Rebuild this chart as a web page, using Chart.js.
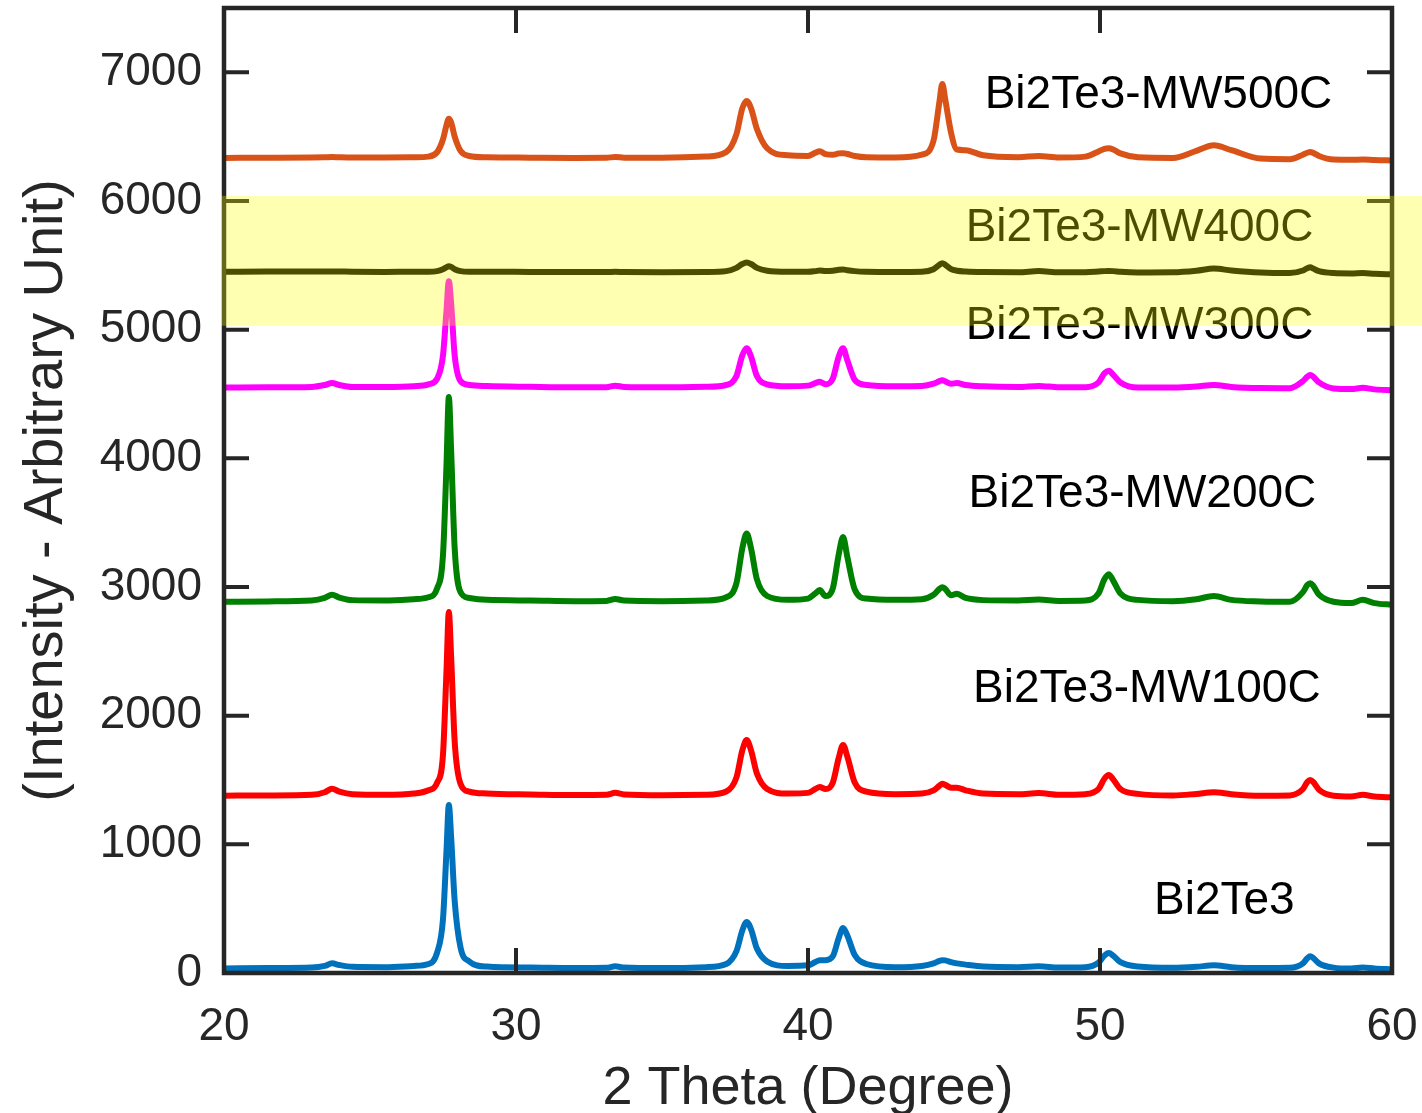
<!DOCTYPE html>
<html>
<head>
<meta charset="utf-8">
<script src="https://cdn.jsdelivr.net/npm/chart.js@4.4.1/dist/chart.umd.min.js"></script>
<style>
  html, body { margin: 0; padding: 0; background: #fff; }
</style>
</head>
<body>
<canvas id="xrdChart" width="1422" height="1113"></canvas>
<script>
// 2-theta sample positions (shared by all patterns)
const twoTheta = [
  20, 21.5, 23.0, 23.45, 23.7, 23.95, 24.4, 25.5, 26.5,
  27.0, 27.3, 27.5, 27.62, 27.7, 27.78, 27.9, 28.1, 28.4,
  29.0, 30.5, 32.0, 33.1, 33.4, 33.7, 35.0, 36.5,
  37.2, 37.55, 37.75, 37.9, 38.05, 38.25, 38.6, 39.3,
  40.0, 40.25, 40.4, 40.6, 40.85, 41.05, 41.2, 41.35, 41.6, 42.0, 43.0,
  43.9, 44.3, 44.5, 44.6, 44.7, 44.9, 45.1, 45.4, 46.0,
  47.2, 47.9, 48.6,
  49.5, 49.95, 50.15, 50.3, 50.45, 50.7, 51.3,
  52.5, 53.3, 53.9, 54.5, 55.5,
  56.5, 56.95, 57.1, 57.2, 57.3, 57.5, 58.0,
  58.6, 59.0, 59.4, 60
];

const bi2te3 = [
  35, 38, 42, 55, 75, 62, 48, 45, 55,
  70, 160, 420, 950, 1305, 1050, 560, 200, 90,
  50, 42, 38, 40, 52, 42, 38, 45,
  70, 170, 330, 396, 340, 190, 90, 55,
  60, 85, 100, 100, 130, 270, 350, 290, 140, 70, 45,
  55, 75, 95, 100, 98, 85, 75, 65, 50,
  45, 52, 42,
  45, 80, 135, 155, 135, 85, 50,
  40, 48, 60, 45, 38,
  40, 75, 115, 130, 118, 75, 42,
  35, 42, 35, 28
];

const mw100 = [
  1378, 1380, 1385, 1405, 1432, 1410, 1390, 1385, 1395,
  1420, 1480, 1700, 2350, 2805, 2450, 1800, 1470, 1410,
  1395, 1388, 1383, 1385, 1400, 1388, 1382, 1385,
  1410, 1520, 1730, 1810, 1730, 1550, 1430, 1395,
  1400, 1430, 1445, 1430, 1480, 1670, 1772, 1680, 1480, 1410, 1390,
  1395, 1420, 1455, 1470, 1462, 1440, 1440, 1420, 1395,
  1390, 1398, 1385,
  1390, 1430, 1510, 1538, 1505, 1430, 1392,
  1380, 1392, 1405, 1390, 1378,
  1380, 1430, 1485, 1500, 1485, 1425, 1378,
  1372, 1385, 1372, 1365
];

const mw200 = [
  2885, 2888, 2895, 2915, 2940, 2918, 2898, 2895, 2905,
  2920, 2990, 3250, 3950, 4476, 4050, 3300, 2960, 2915,
  2900, 2895, 2890, 2892, 2907, 2895, 2890, 2895,
  2920, 3030, 3300, 3415, 3300, 3060, 2930, 2900,
  2910, 2950, 2976, 2930, 2990, 3250, 3388, 3230, 2980, 2910, 2900,
  2905, 2940, 2985, 2999, 2985, 2935, 2948, 2915, 2898,
  2895, 2902, 2892,
  2895, 2950, 3060, 3100, 3050, 2950, 2900,
  2890, 2905, 2930, 2900, 2888,
  2885, 2960, 3015, 3030, 3010, 2940, 2885,
  2875, 2900, 2875, 2862
];

const mw300 = [
  4550, 4552, 4555, 4570, 4585, 4570, 4555, 4554, 4560,
  4575, 4620, 4800, 5150, 5377, 5200, 4800, 4600, 4570,
  4562, 4556, 4552, 4553, 4565, 4555, 4552, 4556,
  4570, 4640, 4800, 4856, 4790, 4640, 4575, 4560,
  4565, 4585, 4595, 4575, 4620, 4790, 4856, 4760, 4610, 4570, 4560,
  4562, 4580, 4600, 4607, 4598, 4580, 4585, 4570, 4560,
  4555, 4563, 4552,
  4553, 4590, 4660, 4680, 4650, 4590, 4550,
  4550, 4558, 4570, 4555, 4546,
  4545, 4600, 4635, 4647, 4635, 4590, 4543,
  4538, 4548, 4536, 4530
];

const mw400 = [
  5450, 5452, 5452, 5452, 5453, 5452, 5450, 5449, 5450,
  5450, 5455, 5470, 5485, 5493, 5488, 5470, 5455, 5450,
  5450, 5449, 5448, 5448, 5450, 5448, 5447, 5448,
  5455, 5480, 5510, 5522, 5510, 5480, 5458, 5450,
  5450, 5455, 5460, 5455, 5458, 5465, 5468, 5462, 5455, 5450, 5448,
  5450, 5470, 5505, 5517, 5505, 5470, 5458, 5452, 5448,
  5447, 5455, 5447,
  5447, 5452, 5455, 5456, 5455, 5450, 5445,
  5446, 5458, 5475, 5460, 5444,
  5440, 5460, 5478, 5485, 5475, 5455, 5440,
  5437, 5440, 5435, 5430
];

const mw500 = [
  6335, 6336, 6338, 6340, 6342, 6340, 6338, 6338, 6340,
  6345, 6380, 6480, 6590, 6640, 6610, 6500, 6390, 6350,
  6340, 6337, 6335, 6336, 6342, 6337, 6336, 6345,
  6380, 6520, 6720, 6778, 6720, 6560, 6410, 6355,
  6350, 6375, 6387, 6365, 6360, 6370, 6372, 6365, 6350, 6340, 6338,
  6360, 6470, 6770, 6910, 6790, 6530, 6400, 6395, 6355,
  6340, 6350, 6338,
  6345, 6385, 6405, 6410, 6400, 6370, 6340,
  6335, 6390, 6433, 6395, 6330,
  6325, 6360, 6375, 6380, 6374, 6350, 6322,
  6320, 6322, 6318, 6315
];

const sampleNames = ['Bi2Te3', 'Bi2Te3-MW100C', 'Bi2Te3-MW200C', 'Bi2Te3-MW300C', 'Bi2Te3-MW400C', 'Bi2Te3-MW500C'];
const patterns = [bi2te3, mw100, mw200, mw300, mw400, mw500];
const lineColors = ['#0072BD', '#FF0000', '#008000', '#FF00FF', '#000000', '#D95319'];

const xTicks = [20, 30, 40, 50, 60];
const yTicks = [0, 1000, 2000, 3000, 4000, 5000, 6000, 7000];

// where the sample names sit (data units, left edge / middle)
const labelX = [51.85, 45.65, 45.5, 45.4, 45.4, 46.05];
const labelY = [559, 2207, 3722, 5027, 5789, 6822];

// highlighted intensity band
const highlightBand = [5030, 6040];

const FONT = '"Liberation Sans", Arial, Helvetica, sans-serif';
const AXIS_COLOR = '#262626';

function toPoints(ys) {
  return twoTheta.map((x, i) => ({ x: x, y: ys[i] }));
}

// frame with inward ticks on all four sides, labels, then the yellow highlight on top
const framePlugin = {
  id: 'frame',
  afterDatasetsDraw(chart) {
    const { ctx, chartArea: a, scales: { x, y } } = chart;
    ctx.save();
    ctx.strokeStyle = AXIS_COLOR;
    ctx.lineWidth = 4.5;
    ctx.strokeRect(a.left, a.top, a.right - a.left, a.bottom - a.top);

    const tl = 25;
    ctx.lineWidth = 4;
    ctx.beginPath();
    xTicks.forEach(v => {
      const px = x.getPixelForValue(v);
      ctx.moveTo(px, a.bottom); ctx.lineTo(px, a.bottom - tl);
      ctx.moveTo(px, a.top); ctx.lineTo(px, a.top + tl);
    });
    yTicks.forEach(v => {
      const py = y.getPixelForValue(v);
      ctx.moveTo(a.left, py); ctx.lineTo(a.left + tl, py);
      ctx.moveTo(a.right, py); ctx.lineTo(a.right - tl, py);
    });
    ctx.stroke();

    ctx.fillStyle = '#000';
    ctx.font = '46px ' + FONT;
    ctx.textAlign = 'left';
    ctx.textBaseline = 'middle';
    sampleNames.forEach((name, i) => {
      ctx.fillText(name, x.getPixelForValue(labelX[i]), y.getPixelForValue(labelY[i]));
    });

    const top = y.getPixelForValue(highlightBand[1]);
    const bottom = y.getPixelForValue(highlightBand[0]);
    ctx.fillStyle = 'rgba(255, 255, 0, 0.3)';
    ctx.fillRect(a.left - 3, top, chart.width - a.left + 3, bottom - top);
    ctx.restore();
  }
};

const ctx = document.getElementById('xrdChart').getContext('2d');
const xrdChart = new Chart(ctx, {
  type: 'line',
  data: {
    datasets: patterns.map((p, i) => ({
      label: sampleNames[i],
      data: toPoints(p),
      borderColor: lineColors[i],
      borderWidth: 6,
      pointRadius: 0,
      fill: false,
      cubicInterpolationMode: 'monotone'
    }))
  },
  options: {
    responsive: false,
    animation: false,
    layout: { padding: { top: 8, right: 30, left: 0, bottom: 0 } },
    plugins: { legend: { display: false }, tooltip: { enabled: false } },
    scales: {
      x: {
        type: 'linear',
        min: 20,
        max: 60,
        afterBuildTicks: s => { s.ticks = xTicks.map(v => ({ value: v })); },
        afterFit: s => { s.height = 140; s.paddingLeft = 0; s.paddingRight = 0; },
        grid: { display: false },
        border: { display: false },
        ticks: { color: AXIS_COLOR, font: { family: FONT, size: 46 }, padding: 19, callback: v => String(v) },
        title: {
          display: true,
          text: '2 Theta (Degree)',
          color: AXIS_COLOR,
          font: { family: FONT, size: 54, lineHeight: 0.86 },
          padding: { top: 0, bottom: 1 }
        }
      },
      y: {
        type: 'linear',
        min: 0,
        max: 7500,
        afterBuildTicks: s => { s.ticks = yTicks.map(v => ({ value: v })); },
        afterFit: s => { s.width = 224; s.paddingTop = 0; s.paddingBottom = 0; },
        grid: { display: false },
        border: { display: false },
        ticks: { color: AXIS_COLOR, font: { family: FONT, size: 46 }, padding: 14, callback: v => String(v) },
        title: {
          display: true,
          text: '(Intensity - Arbitrary Unit)',
          color: AXIS_COLOR,
          font: { family: FONT, size: 56, lineHeight: 1.2 },
          padding: { top: 13, bottom: 0 }
        }
      }
    }
  },
  plugins: [framePlugin]
});
</script>
</body>
</html>
